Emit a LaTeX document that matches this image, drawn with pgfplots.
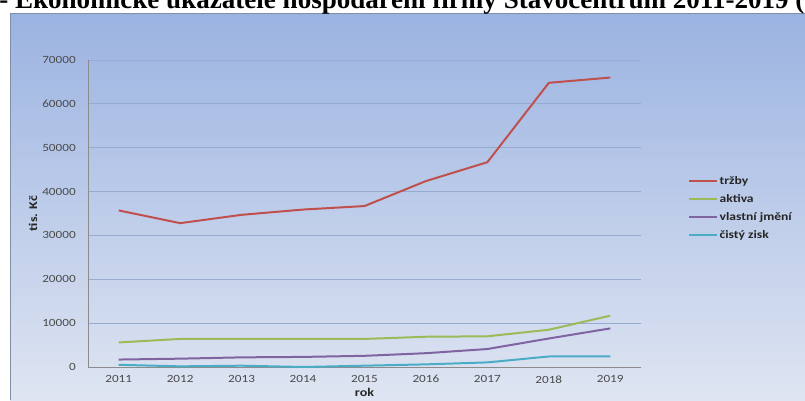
\documentclass[border=0pt]{standalone}
\usepackage{pgfplots}
\pgfplotsset{compat=1.18}
\usepackage{fontspec}
\setmainfont{Carlito}[FakeStretch=1.2]
\newfontfamily\titlefont{Liberation Serif}
\definecolor{trz}{HTML}{C0504D}
\definecolor{akt}{HTML}{9BBB59}
\definecolor{vla}{HTML}{8064A2}
\definecolor{zis}{HTML}{4BACC6}
\definecolor{bgtop}{HTML}{9BB3E1}
\definecolor{bgbot}{HTML}{DFE5F2}
\definecolor{gridc}{HTML}{97ABD1}
\definecolor{axc}{HTML}{8C8C8C}
\definecolor{tickc}{HTML}{4A4A4A}
\definecolor{bord}{HTML}{7F8FA8}
\begin{document}
\begin{tikzpicture}[x=0.75pt,y=0.75pt]
\clip (0,0) rectangle (805,400);
\shade[top color=bgtop, bottom color=bgbot] (10,0) rectangle (805,386);
\draw[color=bord, line width=0.75pt] (10,0) -- (10,386) -- (805,386);
\node[anchor=base west, inner sep=0, font=\titlefont\bfseries\fontsize{20.3}{22}\selectfont] at (-1,391) {- Ekonomické ukazatele hospodaření firmy Stavocentrum 2011-2019 (};
\begin{axis}[
  at={(66pt,24.75pt)}, anchor=south west,
  scale only axis, width=414.75pt, height=230.25pt,
  xmin=2010.5, xmax=2019.5, ymin=0, ymax=70000,
  xtick={2011,2012,...,2019}, ytick={0,10000,...,70000},
  /pgf/number format/assume math mode=true,
  /pgf/number format/1000 sep={},
  scaled y ticks=false,
  axis lines*=left, axis line style={-, color=axc, line width=0.75pt},
  major tick length=0pt,
  ymajorgrids, grid style={color=gridc, line width=0.75pt},
  tick label style={font=\fontsize{8.25}{9}\selectfont, text=tickc},
  yticklabel style={anchor=east, inner sep=0pt, xshift=-9pt},
  xticklabel style={anchor=north, inner sep=0pt, yshift=-6.2pt},
  xlabel={rok}, ylabel={tis. Kč},
  label style={font=\bfseries\fontsize{8.8}{10}\selectfont, text=black!85, inner sep=0pt},
  xlabel style={at={(rel axis cs:0.5,0)}, anchor=center, yshift=-18.75pt},
  ylabel style={at={(rel axis cs:0,0.5)}, anchor=center, yshift=41.25pt},
  legend cell align=left,
  legend image code/.code={\draw[#1] (0pt,0pt) -- (21pt,0pt);},
  legend style={at={(rel axis cs:1.085,0.63)}, anchor=north west, draw=none, fill=none,
    inner sep=0pt, row sep=2.5pt,
    font=\bfseries\fontsize{8.5}{10}\selectfont, text=black!85,
    nodes={text height=7pt, text depth=2pt, inner sep=1pt}},
  every axis plot/.append style={line width=1.5pt, no marks},
  clip=false,
]
\addplot[color=trz] coordinates {(2011,35700) (2012,32800) (2013,34700) (2014,35900) (2015,36700) (2016,42400) (2017,46700) (2018,64800) (2019,66000)};
\addlegendentry{tržby}
\addplot[color=akt] coordinates {(2011,5600) (2012,6400) (2013,6400) (2014,6400) (2015,6400) (2016,6900) (2017,7000) (2018,8500) (2019,11700)};
\addlegendentry{aktiva}
\addplot[color=vla] coordinates {(2011,1700) (2012,1900) (2013,2200) (2014,2300) (2015,2550) (2016,3150) (2017,4100) (2018,6500) (2019,8800)};
\addlegendentry{vlastní jmění}
\addplot[color=zis] coordinates {(2011,500) (2012,150) (2013,300) (2014,0) (2015,300) (2016,600) (2017,1050) (2018,2400) (2019,2400)};
\addlegendentry{čistý zisk}
\end{axis}
\end{tikzpicture}
\end{document}
